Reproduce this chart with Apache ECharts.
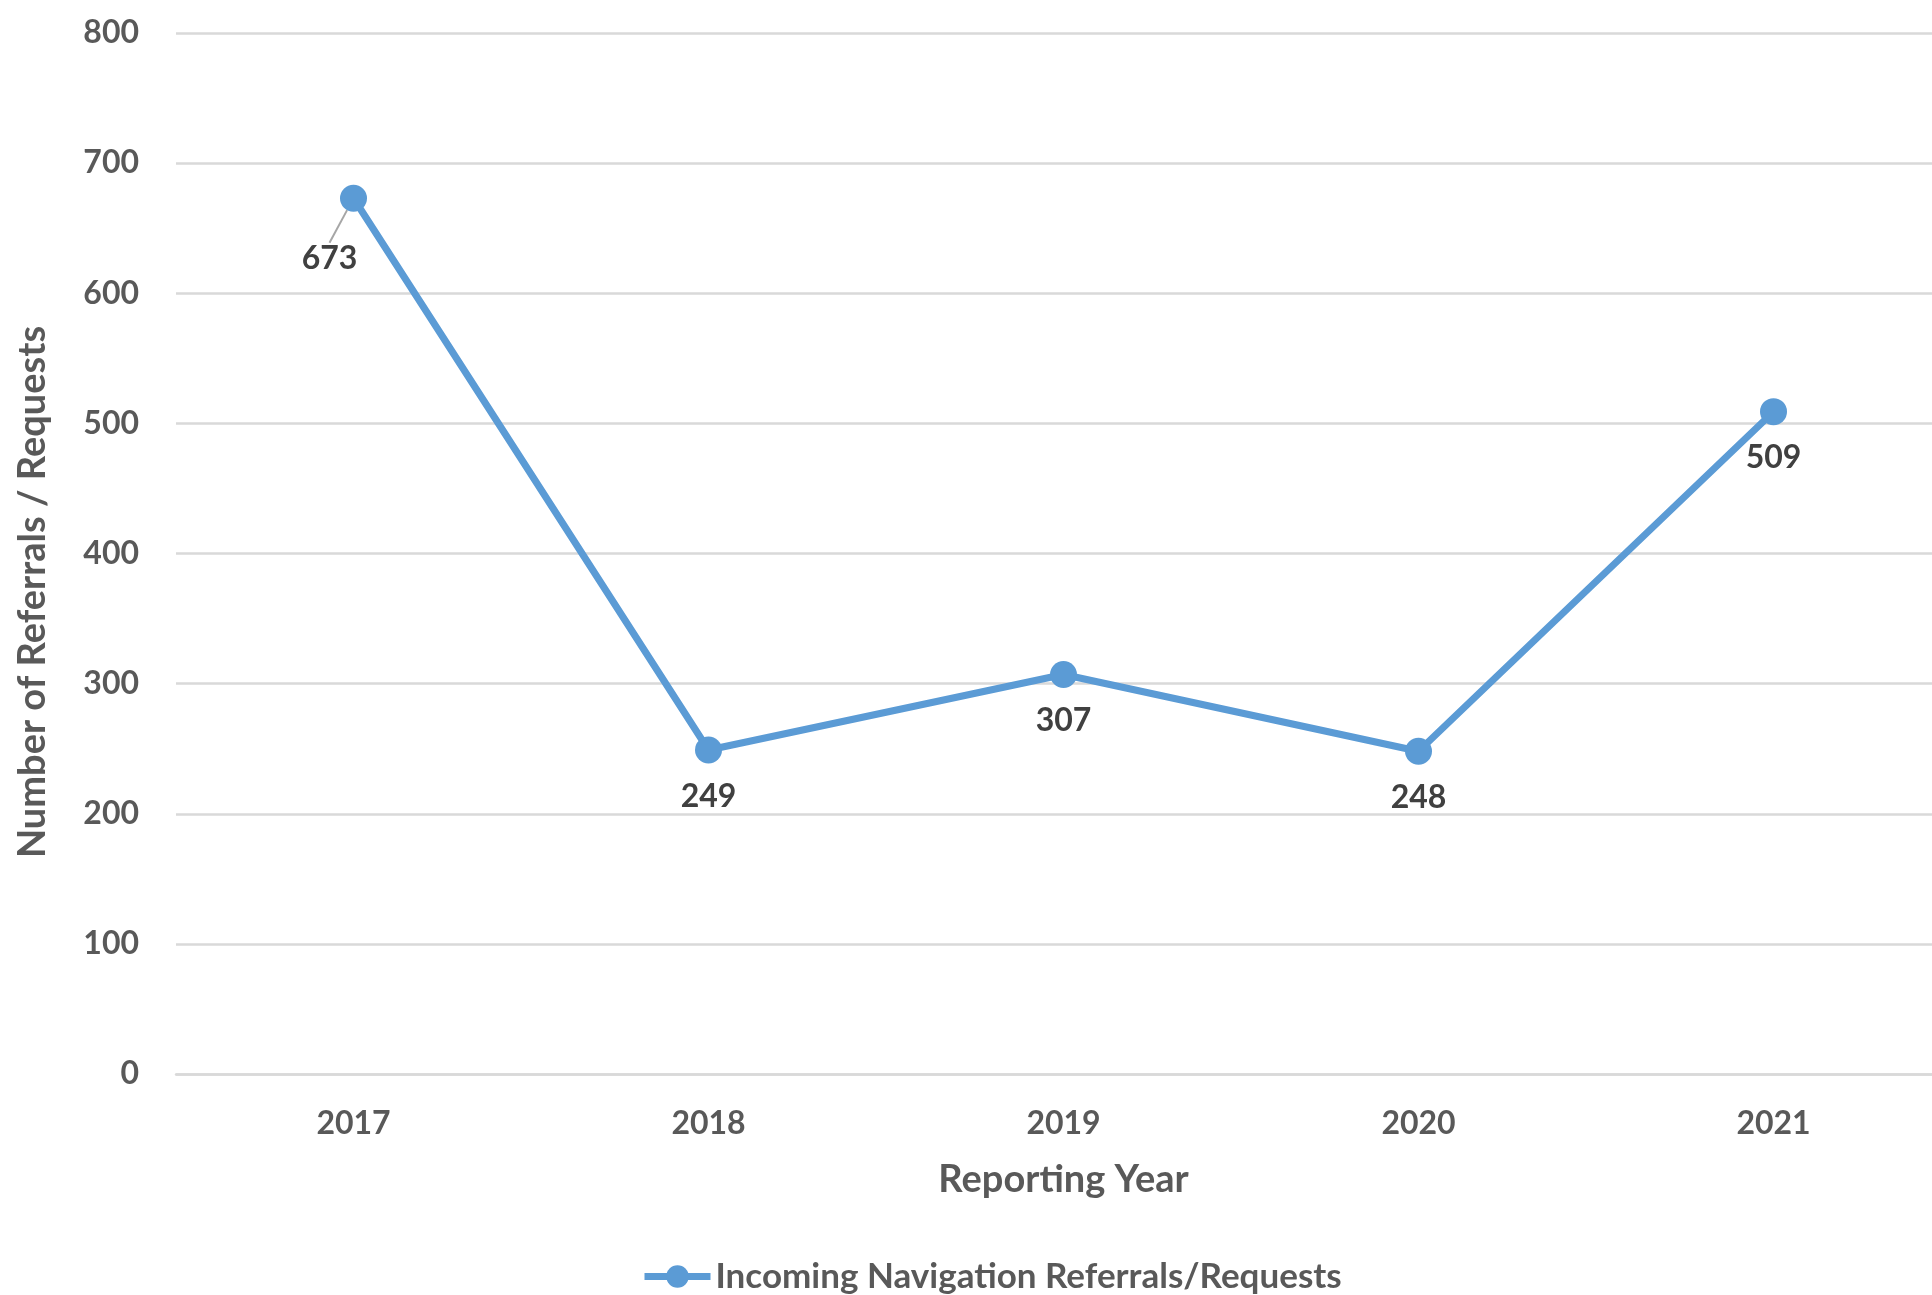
<!DOCTYPE html>
<html>
<head>
<meta charset="utf-8">
<script src="https://cdn.jsdelivr.net/npm/echarts@6/dist/echarts.min.js"></script>
<style>
html,body{margin:0;padding:0;background:#fff;}
#chart{width:1932px;height:1295px;}
</style>
</head>
<body>
<div id="chart"></div>
<script>
const categories = ['2017', '2018', '2019', '2020', '2021'];
const referrals = [673, 249, 307, 248, 509];
const seriesName = 'Incoming Navigation Referrals/Requests';
const yTitle = 'Number of Referrals / Requests';
const xTitle = 'Reporting Year';

const FONT = 'Lato, "Open Sans", sans-serif';
const chart = echarts.init(document.getElementById('chart'));
chart.setOption({
  backgroundColor: '#ffffff',
  animation: false,
  grid: { left: 176, width: 1775, top: 33, bottom: 221, containLabel: false, outerBoundsMode: 'none' },
  xAxis: {
    type: 'category',
    data: categories,
    boundaryGap: true,
    axisLine: { show: true, lineStyle: { color: '#D9D9D9', width: 2.5 } },
    axisTick: { show: false },
    axisLabel: { color: '#595959', fontFamily: FONT, fontWeight: 'bold', fontSize: 32, margin: 34 },
    name: xTitle,
    nameLocation: 'middle',
    nameGap: 87,
    nameTextStyle: { color: '#595959', fontFamily: FONT, fontWeight: 'bold', fontSize: 38 }
  },
  yAxis: {
    type: 'value',
    min: 0, max: 800, interval: 100,
    axisLine: { show: false },
    axisTick: { show: false },
    splitLine: { lineStyle: { color: '#D9D9D9', width: 2.5 } },
    axisLabel: { color: '#595959', fontFamily: FONT, fontWeight: 'bold', fontSize: 32, margin: 37 }
  },
  legend: {
    bottom: -4,
    left: 636,
    itemWidth: 66,
    itemHeight: 28,
    lineStyle: { width: 7 },
    textStyle: { color: '#595959', fontFamily: FONT, fontWeight: 'bold', fontSize: 35 },
    data: [seriesName]
  },
  graphic: [{
    type: 'text',
    x: 33, y: 592,
    rotation: Math.PI / 2,
    style: {
      text: yTitle,
      align: 'center', verticalAlign: 'middle',
      fill: '#595959',
      font: 'bold 38px ' + FONT
    }
  }],
  series: [{
    name: seriesName,
    type: 'line',
    data: referrals.map(function (v, i) {
      return i === 0 ? { value: v, labelLine: { show: true } } : { value: v, labelLine: { show: false } };
    }),
    symbol: 'circle',
    symbolSize: 27,
    lineStyle: { color: '#5B9BD5', width: 7 },
    itemStyle: { color: '#5B9BD5' },
    label: {
      show: true, position: 'bottom', distance: 17,
      color: '#404040', fontFamily: FONT, fontWeight: 'bold', fontSize: 32
    },
    labelLayout: function (params) {
      if (params.dataIndex === 0) return { dx: -24, dy: 14 };
      return {};
    },
    labelLine: { show: false, lineStyle: { color: '#A6A6A6', width: 2 } }
  }]
});
</script>
</body>
</html>
